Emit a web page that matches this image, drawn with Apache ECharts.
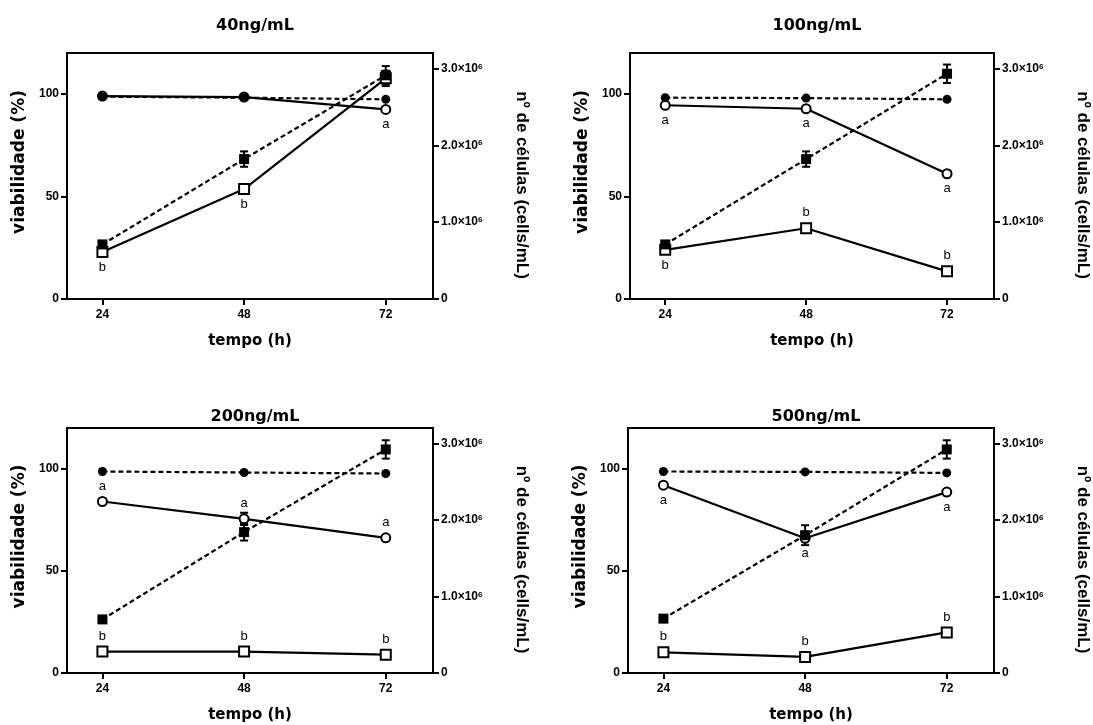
<!DOCTYPE html>
<html>
<head>
<meta charset="utf-8">
<script src="https://cdn.jsdelivr.net/npm/echarts@6/dist/echarts.min.js"></script>
<style>html,body{margin:0;padding:0;background:#fff;}#c{width:1093px;height:725px;}</style>
</head>
<body>
<div id="c"></div>
<script>
// ---- data ----
const times = [24, 48, 72];
const panelTitles = ['40ng/mL', '100ng/mL', '200ng/mL', '500ng/mL'];
const xTicks = [24, 48, 72];
const leftTicks = [0, 50, 100];
const rightTicks = [0, 1000000, 2000000, 3000000];
const xName = 'tempo (h)';
const leftName = 'viabilidade (%)';
const rightName = 'nº de células (cells/mL)';

// viability (%) - control (filled circles) and treated (open circles)
const ctrlViab = [
  [98.7, 98.2, 97.4],
  [98.2, 98.0, 97.4],
  [98.7, 98.2, 97.7],
  [98.7, 98.5, 98.0]
];
const trtViab = [
  [99.0, 98.5, 92.5],
  [94.5, 92.8, 61.1],
  [84.0, 75.5, 66.2],
  [92.0, 66.0, 88.6]
];
const trtViabErr = [
  [0, 0, 0],
  [0, 0, 0],
  [0, 3, 0],
  [0, 0, 0]
];
// cell number (cells/mL) - control (filled squares) and treated (open squares)
const ctrlCells = [
  [710000, 1820000, 2910000],
  [710000, 1820000, 2930000],
  [700000, 1840000, 2920000],
  [710000, 1800000, 2920000]
];
const ctrlCellsErr = [
  [30000, 100000, 120000],
  [30000, 100000, 120000],
  [30000, 110000, 120000],
  [30000, 130000, 120000]
];
const trtCells = [
  [610000, 1430000, 2870000],
  [640000, 920000, 360000],
  [280000, 280000, 240000],
  [270000, 210000, 530000]
];
const trtCellsErr = [
  [0, 0, 100000],
  [0, 0, 0],
  [0, 0, 0],
  [0, 0, 0]
];
// significance letters
const viabLetters = [
  ['', '', 'a'],
  ['a', 'a', 'a'],
  ['a', 'a', 'a'],
  ['a', 'a', 'a']
];
const cellLetters = [
  ['b', 'b', ''],
  ['b', 'b', 'b'],
  ['b', 'b', 'b'],
  ['b', 'b', 'b']
];

// ---- layout / styles ----
const grids = [
  {left: 67, top: 53, width: 366, height: 246},
  {left: 630, top: 53, width: 364, height: 246},
  {left: 67, top: 428, width: 366, height: 245},
  {left: 628, top: 428, width: 366, height: 245}
];
const titleY = [13, 13, 404, 404];
const viabLetterPos = [
  ['bottom', 'bottom', 'bottom'],
  ['bottom', 'bottom', 'bottom'],
  ['top', 'top', 'top'],
  ['bottom', 'bottom', 'bottom']
];
const cellLetterPos = [
  ['bottom', 'bottom', 'bottom'],
  ['bottom', 'top', 'top'],
  ['top', 'top', 'top'],
  ['top', 'top', 'top']
];

const BOLD = 'DejaVu Sans';
const ARIAL = 'Liberation Sans';
const axisLineStyle = {color: '#000', width: 2};

function pts(vals, letters, pos) {
  return vals.map((v, i) => ({
    value: [times[i], v],
    label: letters[i] ? {show: true, formatter: letters[i], position: pos[i]} : {show: false}
  }));
}
function errData(vals, errs) {
  const out = [];
  vals.forEach((v, i) => { if (errs[i] > 0) out.push([times[i], v - errs[i], v + errs[i]]); });
  return out;
}
function errRender(params, api) {
  const x = api.value(0);
  const lo = api.coord([x, api.value(1)]);
  const hi = api.coord([x, api.value(2)]);
  const w = 4;
  const st = {stroke: '#000', lineWidth: 2};
  return {type: 'group', children: [
    {type: 'line', shape: {x1: lo[0], y1: lo[1], x2: hi[0], y2: hi[1]}, style: st},
    {type: 'line', shape: {x1: lo[0] - w, y1: lo[1], x2: lo[0] + w, y2: lo[1]}, style: st},
    {type: 'line', shape: {x1: hi[0] - w, y1: hi[1], x2: hi[0] + w, y2: hi[1]}, style: st}
  ]};
}

const labelStyle = {color: '#000', fontSize: 13, fontFamily: ARIAL, distance: 3};

const option = {
  animation: false,
  backgroundColor: '#fff',
  title: [], grid: [], xAxis: [], yAxis: [], series: []
};

for (let p = 0; p < 4; p++) {
  const g = grids[p];
  option.grid.push(Object.assign({show: true, borderColor: '#000', borderWidth: 2, containLabel: false, outerBoundsMode: 'none'}, g));
  option.title.push({
    text: panelTitles[p], left: g.left + g.width / 2, top: titleY[p], textAlign: 'center',
    textStyle: {fontFamily: BOLD, fontWeight: 'bold', fontSize: 16, color: '#000'}
  });
  option.xAxis.push({
    gridIndex: p, type: 'value', min: 18, max: 80,
    axisLine: {show: true, onZero: false, lineStyle: axisLineStyle},
    axisTick: {show: true, length: 6, lineStyle: axisLineStyle, customValues: xTicks},
    axisLabel: {customValues: xTicks, color: '#000', fontFamily: ARIAL, fontWeight: 'bold', fontSize: 12, margin: 10},
    splitLine: {show: false},
    name: xName, nameLocation: 'middle', nameGap: 35,
    nameTextStyle: {fontFamily: BOLD, fontWeight: 'bold', fontSize: 15, color: '#000'}
  });
  option.yAxis.push({
    gridIndex: p, type: 'value', position: 'left', min: 0, max: 120,
    axisLine: {show: true, lineStyle: axisLineStyle},
    axisTick: {show: true, length: 6, lineStyle: axisLineStyle, customValues: leftTicks},
    axisLabel: {customValues: leftTicks, color: '#000', fontFamily: ARIAL, fontWeight: 'bold', fontSize: 12, margin: 8},
    splitLine: {show: false},
    name: leftName, nameLocation: 'middle', nameGap: 39,
    nameTextStyle: {fontFamily: BOLD, fontWeight: 'bold', fontSize: 17, color: '#000', padding: [0, 0, 0, 28]}
  });
  option.yAxis.push({
    gridIndex: p, type: 'value', position: 'right', min: 0, max: 3200000,
    axisLine: {show: true, lineStyle: axisLineStyle},
    axisTick: {show: true, length: 6, lineStyle: axisLineStyle, customValues: rightTicks},
    axisLabel: {
      customValues: rightTicks, color: '#000', fontFamily: ARIAL, fontWeight: 'bold', fontSize: 12, margin: 8,
      formatter: v => v === 0 ? '0' : (v / 1e6).toFixed(1) + '×10{s|6}',
      rich: {s: {fontFamily: ARIAL, fontWeight: 'bold', fontSize: 8, color: '#000', verticalAlign: 'top', lineHeight: 8}}
    },
    splitLine: {show: false},
    name: rightName, nameLocation: 'middle', nameGap: 80, nameRotate: -90,
    nameTextStyle: {fontFamily: ARIAL, fontWeight: 'bold', fontSize: 17, color: '#000', padding: [0, 0, 0, 18]}
  });
  const xi = p, yl = 2 * p, yr = 2 * p + 1;
  const none = ['', '', ''];
  option.series.push(
    {type: 'custom', xAxisIndex: xi, yAxisIndex: yr, renderItem: errRender, data: errData(ctrlCells[p], ctrlCellsErr[p]), z: 2},
    {type: 'custom', xAxisIndex: xi, yAxisIndex: yr, renderItem: errRender, data: errData(trtCells[p], trtCellsErr[p]), z: 2},
    {type: 'custom', xAxisIndex: xi, yAxisIndex: yl, renderItem: errRender, data: errData(trtViab[p], trtViabErr[p]), z: 2},
    {type: 'line', xAxisIndex: xi, yAxisIndex: yr, data: pts(trtCells[p], cellLetters[p], cellLetterPos[p]),
      symbol: 'emptyRect', symbolSize: 10, color: '#000', itemStyle: {color: '#000', borderWidth: 2},
      lineStyle: {color: '#000', width: 2.2}, label: labelStyle, z: 3},
    {type: 'line', xAxisIndex: xi, yAxisIndex: yl, data: pts(trtViab[p], viabLetters[p], viabLetterPos[p]),
      symbol: 'emptyCircle', symbolSize: 9, color: '#000', itemStyle: {color: '#000', borderWidth: 2},
      lineStyle: {color: '#000', width: 2.2}, label: labelStyle, z: 3},
    {type: 'line', xAxisIndex: xi, yAxisIndex: yr, data: pts(ctrlCells[p], none, none),
      symbol: 'rect', symbolSize: 10, color: '#000', itemStyle: {color: '#000'},
      lineStyle: {color: '#000', width: 2.2, type: [5, 3]}, z: 4},
    {type: 'line', xAxisIndex: xi, yAxisIndex: yl, data: pts(ctrlViab[p], none, none),
      symbol: 'circle', symbolSize: 9, color: '#000', itemStyle: {color: '#000'},
      lineStyle: {color: '#000', width: 2.2, type: [5, 3]}, z: 4}
  );
}

const chart = echarts.init(document.getElementById('c'), null, {renderer: 'canvas'});
chart.setOption(option);
</script>
</body>
</html>
